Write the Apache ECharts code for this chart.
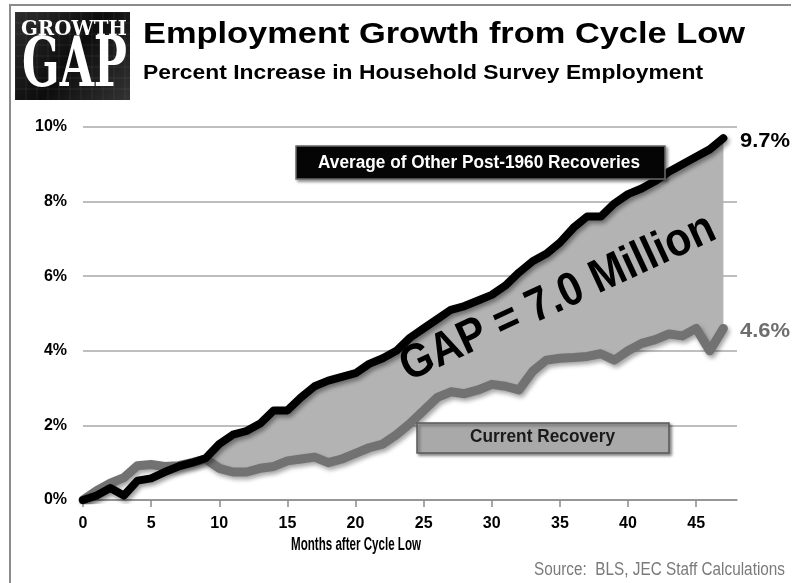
<!DOCTYPE html>
<html><head><meta charset="utf-8">
<script src="https://cdn.jsdelivr.net/npm/echarts@6/dist/echarts.min.js"></script>
<style>html,body{margin:0;padding:0;background:#fff}#c{width:797px;height:583px}</style>
</head><body><div id="c"></div>
<script>
// ---- data ----
const months = [0,1,2,3,4,5,6,7,8,9,10,11,12,13,14,15,16,17,18,19,20,21,22,23,24,25,26,27,28,29,30,31,32,33,34,35,36,37,38,39,40,41,42,43,44,45,46,47,48];
const avgOther = [0,0.12,0.32,0.12,0.52,0.58,0.75,0.9,1.0,1.12,1.5,1.75,1.85,2.05,2.4,2.4,2.75,3.05,3.2,3.3,3.4,3.65,3.8,4.0,4.35,4.6,4.85,5.1,5.2,5.35,5.5,5.75,6.1,6.4,6.6,6.9,7.3,7.6,7.6,7.95,8.2,8.35,8.55,8.8,9.0,9.2,9.4,9.7];
const current = [0,0.25,0.45,0.6,0.92,0.95,0.9,0.92,1.0,1.1,0.85,0.75,0.75,0.85,0.9,1.05,1.1,1.15,1.0,1.1,1.25,1.4,1.5,1.75,2.05,2.4,2.75,2.9,2.85,2.95,3.1,3.05,2.95,3.45,3.75,3.8,3.82,3.85,3.92,3.75,4.0,4.2,4.3,4.45,4.4,4.6,4.0,4.6];
const xTickEvery = 5;
const seriesNames = ['Average of Other Post-1960 Recoveries','Current Recovery'];
const titleText = 'Employment Growth from Cycle Low';
const subtitleText = 'Percent Increase in Household Survey Employment';
const gapText = 'GAP = 7.0 Million';
const xAxisName = 'Months after Cycle Low';
const sourceText = 'Source:  BLS, JEC Staff Calculations';

// ---- helpers ----
const SANS = '"Liberation Sans", Arial, sans-serif';
const SERIF = '"DejaVu Serif", "Liberation Serif", serif';
const mctx = document.createElement('canvas').getContext('2d');
function fit(o){
  const fs = 40;
  const font = (o.weight || 'bold') + ' ' + fs + 'px ' + (o.family || SANS);
  mctx.font = font;
  const w = mctx.measureText(o.text).width;
  return {
    type:'text', x:o.x0, y:o.yc, z:100,
    scaleX:(o.x1 - o.x0) / w, scaleY:o.capH / ((o.cap || 0.70) * fs),
    style:Object.assign({text:o.text, font:font, fill:o.fill || '#000', align:'left', verticalAlign:'middle'}, o.extra || {})
  };
}

const last = avgOther.length - 1;
const gapValues = avgOther.map((v,i)=>Math.max(v - current[i], 0));
const lastTick = months.length - 1;
const showTick = (idx) => idx % xTickEvery === 0 && idx < lastTick;

const shadowTxt = {shadowColor:'rgba(0,0,0,0.45)', shadowBlur:3, shadowOffsetX:2, shadowOffsetY:2};

const logoLines = [];
for (let i=0;i<11;i++){
  logoLines.push({type:'line', z:50, shape:{x1:15+i*11, y1:12, x2:15+i*11, y2:100}, style:{stroke:'rgba(255,255,255,0.07)', lineWidth:1}});
}
for (let j=0;j<8;j++){
  logoLines.push({type:'line', z:50, shape:{x1:15, y1:12+j*11, x2:130, y2:12+j*11}, style:{stroke:'rgba(255,255,255,0.07)', lineWidth:1}});
}

const elements = [
  {type:'polyline', z:1, shape:{points:[[10,583],[10,5],[791,5]]}, style:{stroke:'#8c8c8c', lineWidth:2, fill:null}},
  {type:'rect', z:40, shape:{x:15,y:12,width:115,height:88}, style:{fill:new echarts.graphic.LinearGradient(0,0,1,1,[{offset:0,color:'#2e2e2e'},{offset:0.5,color:'#0c0c0c'},{offset:1,color:'#333'}])}},
  ...logoLines,
  fit({text:'GROWTH', family:SERIF, cap:0.73, x0:21, x1:127, yc:30, capH:14.5, fill:'#fff'}),
  fit({text:'GAP', family:SERIF, cap:0.73, x0:22, x1:127, yc:68.5, capH:50, fill:'#fff'}),
  fit({text:titleText, x0:143, x1:745, yc:35, capH:20.5, extra:shadowTxt}),
  fit({text:subtitleText, x0:143, x1:703, yc:73, capH:14, extra:shadowTxt}),
  // legend boxes
  {type:'rect', z:90, shape:{x:296,y:146,width:369,height:33}, style:{fill:'#050505', stroke:'#6a6a6a', lineWidth:1.5, shadowColor:'rgba(0,0,0,0.4)', shadowBlur:3, shadowOffsetX:2, shadowOffsetY:2}},
  fit({text:seriesNames[0], x0:318, x1:640, yc:163.3, capH:13, fill:'#fff'}),
  {type:'rect', z:90, shape:{x:417,y:423,width:252,height:30}, style:{fill:'#a9a9a9', stroke:'#5a5a5a', lineWidth:1.5, shadowColor:'rgba(0,0,0,0.45)', shadowBlur:3, shadowOffsetX:2, shadowOffsetY:2}},
  fit({text:seriesNames[1], x0:470, x1:615, yc:437, capH:12.5, fill:'#1a1a1a'}),
  // GAP label
  {type:'text', z:100, x:558, y:298, rotation:24.8*Math.PI/180, scaleX:1.0, scaleY:1.12,
    style:{text:gapText, font:'bold 42px '+SANS, fill:'#000', align:'center', verticalAlign:'middle'}},
  // end labels
  fit({text:avgOther[last].toFixed(1)+'%', x0:740, x1:790, yc:141.5, capH:13.5, fill:'#000'}),
  fit({text:current[last].toFixed(1)+'%', x0:740, x1:790, yc:331.5, capH:13.5, fill:'#6e6e6e'}),
  // axis name and source
  fit({text:xAxisName, x0:291, x1:421, yc:545.5, capH:12.5}),
  fit({text:sourceText, weight:'normal', x0:534, x1:785, yc:570, capH:13, fill:'#7a7a7a'})
];

const chart = echarts.init(document.getElementById('c'), null, {renderer:'canvas'});
chart.setOption({
  animation:false,
  backgroundColor:'#fff',
  grid:{left:83, right:60, top:127, bottom:83},
  xAxis:{
    type:'category', data:months.map(String), boundaryGap:false,
    axisLine:{lineStyle:{color:'#8a8a8a', width:1.5}},
    axisTick:{interval:(i)=>showTick(i), length:7, lineStyle:{color:'#8a8a8a', width:1.5}},
    axisLabel:{interval:(i)=>showTick(i), margin:16, fontSize:16, fontWeight:'bold', color:'#000', fontFamily:SANS},
    splitLine:{show:false}
  },
  yAxis:{
    type:'value', min:0, max:10, interval:2,
    axisLine:{show:false}, axisTick:{show:false},
    axisLabel:{formatter:'{value}%', margin:16, fontSize:16, fontWeight:'bold', color:'#000', fontFamily:SANS},
    splitLine:{lineStyle:{color:'#a8a8a8', width:1.5}}
  },
  series:[
    {type:'line', data:current, stack:'gap', symbol:'none', silent:true, lineStyle:{opacity:0}, z:1},
    {type:'line', data:gapValues, stack:'gap', symbol:'none', silent:true, lineStyle:{opacity:0},
      areaStyle:{color:'#b3b3b3', opacity:1}, z:1},
    {type:'line', name:seriesNames[1], data:current, symbol:'none', z:3,
      lineStyle:{color:'#727272', width:9, cap:'round', join:'round', shadowColor:'rgba(0,0,0,0.35)', shadowBlur:4, shadowOffsetX:2, shadowOffsetY:3}},
    {type:'line', name:seriesNames[0], data:avgOther, symbol:'none', z:4,
      lineStyle:{color:'#000', width:8, cap:'round', join:'round', shadowColor:'rgba(0,0,0,0.4)', shadowBlur:4, shadowOffsetX:2, shadowOffsetY:3}}
  ],
  graphic:{elements:elements}
});
</script>
</body></html>
